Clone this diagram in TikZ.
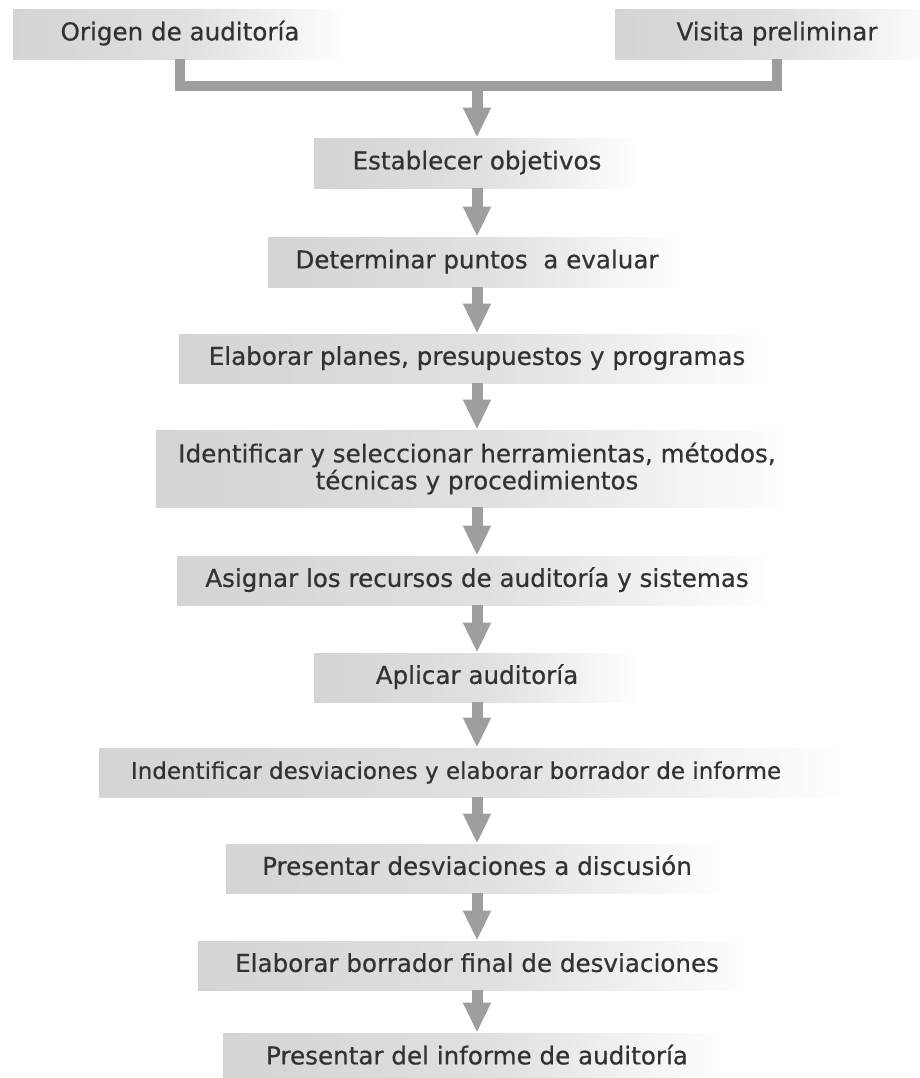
\documentclass[tikz,border=0pt]{standalone}
\usepackage{fontspec}
\setmainfont{DejaVu Sans}
\newfontfamily\cajafont{DejaVu Sans}[FakeBold=0.5]
\usetikzlibrary{arrows.meta}
\definecolor{grisclaro}{RGB}{212,212,212}
\colorlet{grismedio}{grisclaro!70!white}
\definecolor{grisflecha}{RGB}{158,158,158}
\definecolor{texto}{RGB}{50,50,50}
\pgfdeclarehorizontalshading{desvanece}{100bp}{color(0bp)=(grisclaro); color(25bp)=(grisclaro); color(52bp)=(grismedio); color(75bp)=(white); color(100bp)=(white)}
\begin{document}
\begin{tikzpicture}[x=0.5pt,y=-0.5pt,line join=miter,
	caja/.style={shade,shading=desvanece,text=texto,inner sep=0pt,align=center,text height=9pt,text depth=2.6pt,font=\cajafont\fontsize{12.3}{13.5}\selectfont},
	enlace/.style={draw=grisflecha,line width=5pt},
	flecha/.style={draw=grisflecha,line width=5.5pt,-{Triangle[width=13pt,length=15pt]}}]
				\useasboundingbox (0,0) rectangle (920,1078);
				\node[caja,minimum width=167pt,minimum height=25pt] (origen) at (180,34) {Origen de auditoría};
				\node[caja,minimum width=162pt,minimum height=25pt] (visita) at (777,34) {Visita preliminar};
				\node[caja,minimum width=163pt,minimum height=25pt] (objetivos) at (477,163) {Establecer objetivos};
				\node[caja,minimum width=209pt,minimum height=25pt] (puntos) at (477,262) {Determinar puntos~ a evaluar};
				\node[caja,minimum width=298pt,minimum height=24.5pt] (planes) at (477,358.5) {Elaborar planes, presupuestos y programas};
				\node[caja,text height=,text depth=,minimum width=321pt,minimum height=38.5pt] (herramientas) at (477,468.5) {Identificar y seleccionar herramientas, métodos,\\ técnicas y procedimientos};
				\node[caja,minimum width=300pt,minimum height=24.5pt] (recursos) at (477,580.5) {Asignar los recursos de auditoría y sistemas};
				\node[caja,minimum width=163pt,minimum height=24.5pt] (aplicar) at (477,677.5) {Aplicar auditoría};
				\node[caja,font=\cajafont\fontsize{11.5}{13.5}\selectfont,minimum width=378pt,minimum height=24.5pt] (desviaciones) at (477,772.5) {Indentificar desviaciones y elaborar borrador de informe\hspace*{21pt}};
				\node[caja,minimum width=251pt,minimum height=24.5pt] (discusion) at (477,868.5) {Presentar desviaciones a discusión};
				\node[caja,minimum width=279pt,minimum height=24.5pt] (final) at (477,965.5) {Elaborar borrador final de desviaciones};
				\node[caja,minimum width=254pt,minimum height=25pt] (informe) at (477,1058) {Presentar del informe de auditoría};
				
				\coordinate (union) at (477,86);
				\draw[enlace] (origen.south) |- (union) -| (visita.south);
				\draw[flecha] (union) -- (objetivos.north);
				\draw[flecha] (objetivos) -- (puntos);
				\draw[flecha] (puntos) -- (planes);
				\draw[flecha] (planes) -- (herramientas);
				\draw[flecha] (herramientas) -- (recursos);
				\draw[flecha] (recursos) -- (aplicar);
				\draw[flecha] (aplicar) -- (desviaciones);
				\draw[flecha] (desviaciones) -- (discusion);
				\draw[flecha] (discusion) -- (final);
				\draw[flecha] (final) -- (informe);
				
			\end{tikzpicture}
\end{document}
